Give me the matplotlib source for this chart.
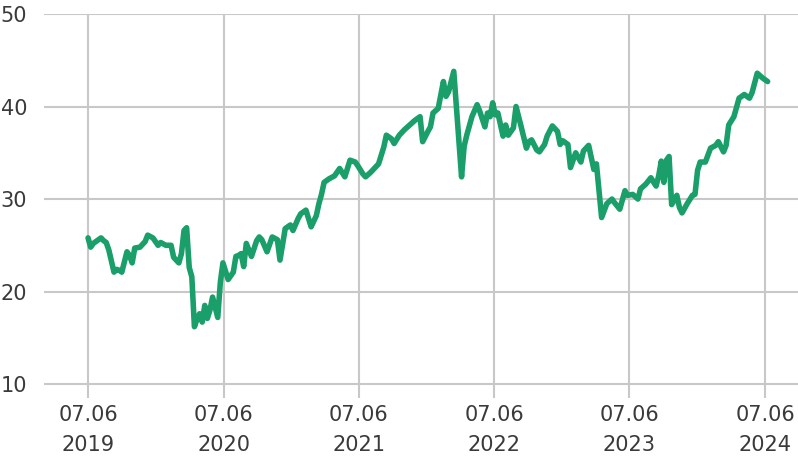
import matplotlib
matplotlib.use("Agg")
import matplotlib.pyplot as plt
import pandas as pd

# weeks since 2019-07-06 and the value
weeks = [0, 1, 2, 3, 5, 6, 7, 8, 10, 11, 12, 13, 15, 16, 17, 18, 20, 22, 23, 25,
         27, 28, 30, 32, 33, 35, 36, 37, 38, 39, 40, 41, 42, 43, 44, 45, 46, 47, 48, 49,
         50, 51, 52, 54, 56, 57, 58, 59, 60, 61, 63, 65, 66, 67, 69, 71, 73, 74, 76, 78,
         79, 81, 82, 84, 86, 88, 89, 90, 91, 93, 95, 97, 99, 101, 103, 104, 106, 107, 109, 112,
         114, 115, 117, 118, 120, 122, 124, 126, 128, 129, 131, 132, 133, 135, 137, 138, 139, 141, 142, 144,
         145, 146, 148, 150, 151, 153, 154, 155, 156, 157, 158, 160, 161, 162, 164, 165, 167, 169, 170, 171,
         173, 174, 176, 177, 179, 181, 182, 183, 185, 186, 188, 190, 191, 193, 195, 196, 197, 198, 200, 202,
         203, 205, 207, 208, 210, 212, 213, 215, 217, 219, 220, 221, 222, 223, 224, 225, 227, 228, 229, 231,
         233, 234, 235, 236, 238, 240, 242, 243, 245, 246, 247, 249, 251, 253, 255, 256, 258, 260, 262]
values = [25.8, 24.8, 25.2, 25.4, 25.8, 25.5, 25.3, 24.5, 22.1, 22.4, 22.3, 22.1, 24.3, 23.9, 23.1, 24.7, 24.8, 25.4, 26.1, 25.8,
          25.0, 25.3, 25.0, 25.0, 23.7, 23.1, 24.1, 26.6, 26.9, 22.6, 21.6, 16.2, 17.0, 17.6, 16.7, 18.5, 17.1, 18.0, 19.4, 18.3,
          17.2, 21.0, 23.1, 21.3, 22.1, 23.8, 23.9, 24.1, 22.7, 25.2, 23.8, 25.5, 25.9, 25.6, 24.3, 25.9, 25.6, 23.4, 26.8, 27.2,
          26.6, 27.9, 28.4, 28.8, 27.0, 28.2, 29.5, 30.5, 31.8, 32.2, 32.5, 33.3, 32.4, 34.2, 34.0, 33.6, 32.7, 32.4, 32.9, 33.8,
          35.6, 36.9, 36.5, 36.0, 36.9, 37.5, 38.0, 38.5, 38.9, 36.2, 37.3, 37.8, 39.3, 39.8, 42.7, 41.1, 41.6, 43.8, 40.0, 32.4,
          35.7, 36.9, 38.9, 40.2, 39.5, 37.8, 39.3, 38.9, 40.4, 39.1, 39.3, 36.8, 38.0, 36.9, 37.7, 40.0, 37.8, 35.5, 36.2, 36.4,
          35.3, 35.1, 35.9, 36.8, 37.9, 37.3, 35.9, 36.3, 35.9, 33.4, 35.0, 34.0, 35.2, 35.8, 33.2, 33.8, 30.9, 28.0, 29.5, 30.0,
          29.6, 28.9, 30.9, 30.4, 30.5, 30.0, 31.1, 31.6, 32.3, 31.4, 32.5, 34.1, 31.8, 34.2, 34.6, 29.4, 30.4, 29.1, 28.5, 29.5,
          30.4, 30.5, 33.1, 34.0, 34.0, 35.5, 35.8, 36.2, 35.1, 35.8, 38.0, 38.9, 40.9, 41.3, 40.9, 41.5, 43.6, 43.1, 42.7]

tick_dates = ["2019-07-06", "2020-07-06", "2021-07-06", "2022-07-06", "2023-07-06", "2024-07-06"]
tick_labels = ["07.06\n2019", "07.06\n2020", "07.06\n2021", "07.06\n2022", "07.06\n2023", "07.06\n2024"]
y_ticks = [10, 20, 30, 40, 50]

plt.rcParams['font.family'] = ['DejaVu Sans']

dates = pd.Timestamp("2019-07-06") + pd.to_timedelta([w * 7 for w in weeks], unit="D")

fig = plt.figure(figsize=(7.98, 4.59), dpi=100)
ax = fig.add_axes([0.0551, 0.133, 0.9449, 0.8365])

ax.plot(dates, values, color="#1a9e6a", linewidth=4.0,
        solid_joinstyle="round", solid_capstyle="round", zorder=3)

ax.set_ylim(8.5, 50)
ax.set_xlim(pd.Timestamp("2019-03-09"), pd.Timestamp("2024-10-03"))
ax.set_yticks(y_ticks)
ax.set_xticks(pd.to_datetime(tick_dates))
ax.set_xticklabels(tick_labels, linespacing=1.65)

ax.grid(True, color="#c8c8c8", linewidth=1.5)
ax.set_axisbelow(True)
for s in ax.spines.values():
    s.set_visible(False)
ax.tick_params(length=0, labelsize=15, labelcolor="#3a3a3a")
ax.tick_params(axis="y", pad=12)
ax.tick_params(axis="x", pad=5)

fig.savefig("out.png", dpi=100)
